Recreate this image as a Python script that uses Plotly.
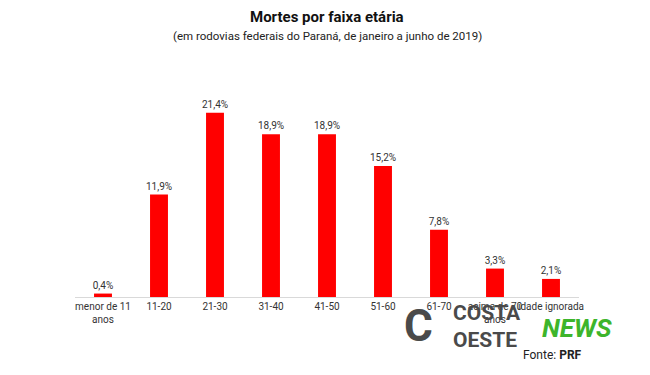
import plotly.graph_objects as go

categories = ["menor de 11<br>anos", "11-20", "21-30", "31-40", "41-50", "51-60", "61-70", "acima de 70<br>anos", "idade ignorada"]
values = [0.4, 11.9, 21.4, 18.9, 18.9, 15.2, 7.8, 3.3, 2.1]
labels = ["0,4%", "11,9%", "21,4%", "18,9%", "18,9%", "15,2%", "7,8%", "3,3%", "2,1%"]

FONT = "Roboto, Liberation Sans, Arial, sans-serif"

OFF = 8  # page body margin offset
L, T = 75 - OFF, 80 - OFF
PW, PH = 504, 217
B = 375 - T - PH
R = 650 - L - PW
BASE = T + PH  # figure coords

fig = go.Figure(go.Bar(
    x=categories, y=values, text=labels, textposition="outside",
    constraintext="none",
    textfont=dict(family=FONT, size=10, color="#333333"),
    marker=dict(color="#ff0000", line=dict(width=0)),
    cliponaxis=False,
))

fig.update_layout(
    width=650, height=375,
    paper_bgcolor="white", plot_bgcolor="white",
    margin=dict(l=L, r=R, t=T, b=B, autoexpand=False),
    bargap=0.68,
    showlegend=False,
    font=dict(family=FONT, size=10, color="#333333"),
    xaxis=dict(showline=True, linecolor="#d9d9d9", linewidth=1, ticks="", tickangle=0,
               automargin=False,
               tickfont=dict(family=FONT, size=10, color="#333333"), fixedrange=True),
    yaxis=dict(range=[0, 25.2], visible=False, showgrid=False, zeroline=False),
)

def py(ypix):
    return (BASE - (ypix - OFF)) / PH

def px(xpix):
    return (xpix - OFF - L) / PW

fig.add_annotation(text="<b>Mortes por faixa etária</b>", xref="paper", yref="paper",
                   x=0.5, y=py(17), xanchor="center", yanchor="middle",
                   showarrow=False, font=dict(family=FONT, size=15, color="#111111"))
fig.add_annotation(text="(em rodovias federais do Paraná, de janeiro a junho de 2019)", xref="paper", yref="paper",
                   x=0.5, y=py(36), xanchor="center", yanchor="middle",
                   showarrow=False, font=dict(family=FONT, size=11.5, color="#222222"))
fig.add_annotation(text="Fonte: <b>PRF</b>", xref="paper", yref="paper",
                   x=px(584), y=py(355), xanchor="right", yanchor="middle",
                   showarrow=False, font=dict(family=FONT, size=12, color="#222222"))
# Watermark logo text
fig.add_annotation(text="<b>COSTA<br>OESTE</b>", xref="paper", yref="paper",
                   x=px(451), y=py(326), xanchor="left", yanchor="middle",
                   showarrow=False, align="left",
                   font=dict(family=FONT, size=21, color="#4a4a4a"))
fig.add_annotation(text="<b><i>NEWS</i></b>", xref="paper", yref="paper",
                   x=px(540), y=py(328), xanchor="left", yanchor="middle",
                   showarrow=False, font=dict(family=FONT, size=26, color="#3db52b"))
fig.add_annotation(text="<b>C</b>", xref="paper", yref="paper",
                   x=px(402), y=py(326), xanchor="left", yanchor="middle",
                   showarrow=False, font=dict(family=FONT, size=44, color="#4a4a4a"))

fig.write_html("out.html")
